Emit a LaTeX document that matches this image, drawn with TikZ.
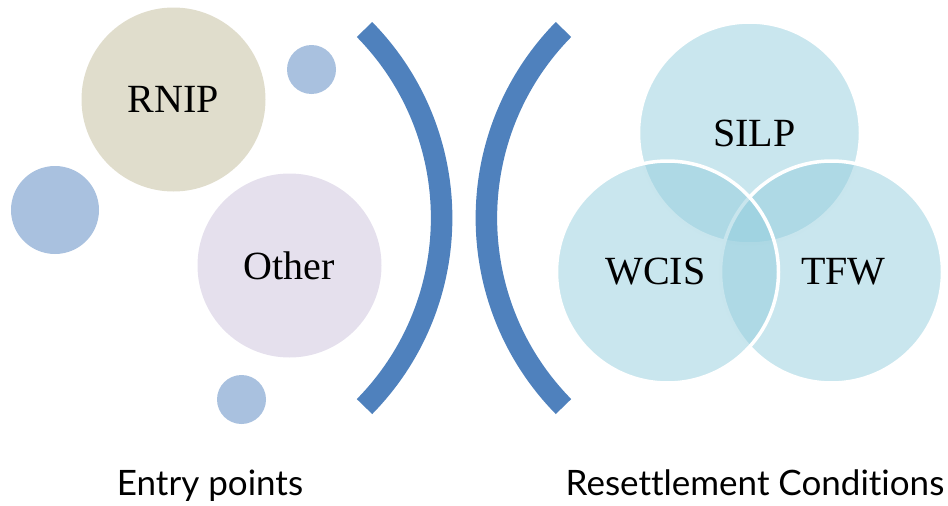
\documentclass[tikz,border=0pt]{standalone}
\usepackage{fontspec}
\setmainfont{Liberation Serif}
\newfontfamily\capfont[Ligatures=NoCommon]{Lato}
\definecolor{rnipfill}{RGB}{224,221,204}
\definecolor{otherfill}{RGB}{229,224,237}
\definecolor{dotblue}{RGB}{169,193,223}
\definecolor{barblue}{RGB}{79,129,189}
\definecolor{vennblue}{RGB}{147,205,221}

\def\rb{184}
\def\rv{222}
\def\rs{49}
\def\R{269}

\begin{document}
\begin{tikzpicture}[x=1pt, y=-1pt]
			\tikzset{blob/.style={circle, inner sep=0pt, minimum size=\rb pt, font=\fontsize{40}{40}\selectfont}}
			\tikzset{dot/.style={circle, inner sep=0pt, fill=dotblue}}
			\tikzset{venn/.style={circle, inner sep=0pt, minimum size=\rv pt, fill=vennblue, fill opacity=0.5, draw=white, line width=3.5pt}}
			\tikzset{vlabel/.style={font=\fontsize{40}{40}\selectfont}}
			\tikzset{bar/.style={draw=barblue, line width=21.5pt}}
			\tikzset{caption/.style={anchor=base, font=\capfont\fontsize{35}{35}\selectfont}}
			\useasboundingbox (0,0) rectangle (948,506);
			% entry points
			\node[blob, fill=rnipfill](rnip) at (173.5,99.5){RNIP};
			\node[blob, fill=otherfill](other) at (289.5,265.5){Other};
			\node[dot, minimum size=\rs pt](dot1) at (311.5,69.5){};
			\node[dot, minimum size=88pt](dot2) at (55,210){};
			\node[dot, minimum size=\rs pt](dot3) at (241.5,399.5){};
			% brackets
			\draw[bar] (364.5,29.5) arc[start angle=-44.5, end angle=44.5, radius=\R];
			\draw[bar] (563.5,29.5) arc[start angle=224.5, end angle=135.5, radius=\R];
			% resettlement conditions
			\node[venn](silp) at (749.5,133){};
			\node[venn](tfw) at (831.5,272){};
			\node[venn](wcis) at (667.5,272){};
			\node[vlabel](silpl) at ([xshift=5pt]silp.center){SILP};
			\node[vlabel](wcisl) at ([xshift=-12pt]wcis.center){WCIS};
			\node[vlabel](tfwl) at ([xshift=12pt]tfw.center){TFW};
			% captions
			\node[caption](entry) at (210,495){Entry points};
			\node[caption](cond) at (755,495){Resettlement Conditions};
		\end{tikzpicture}
\end{document}
